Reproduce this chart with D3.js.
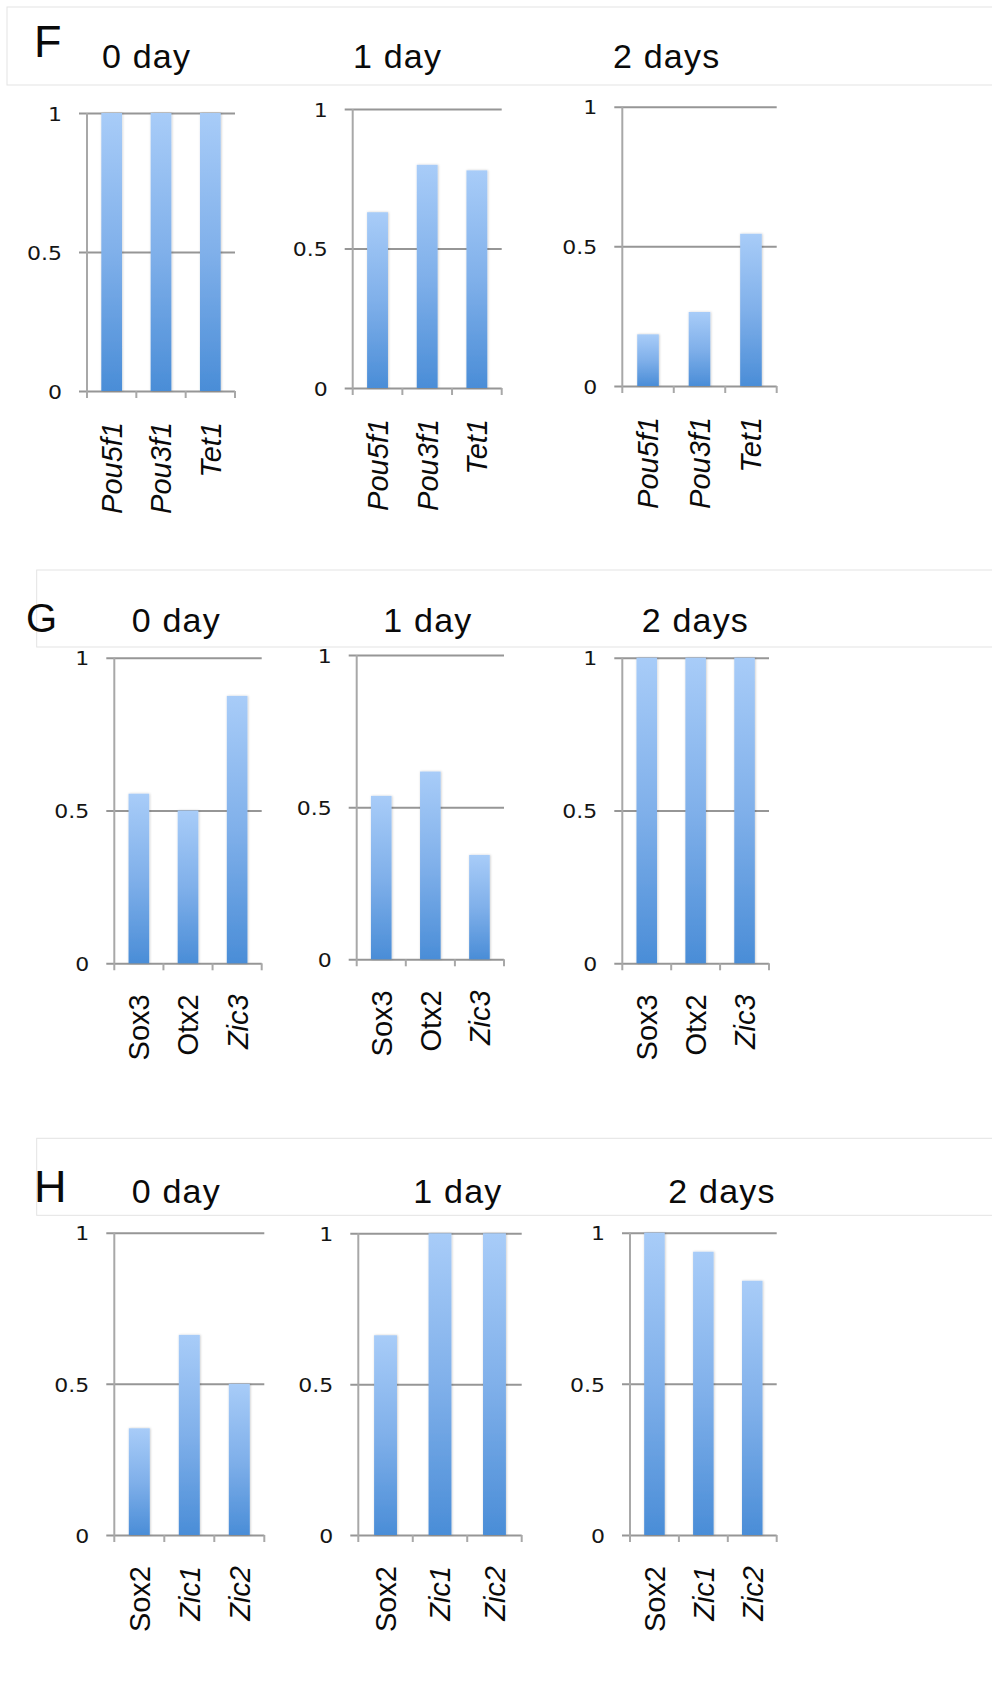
<!DOCTYPE html>
<html>
<head>
<meta charset="utf-8">
<script src="https://cdn.jsdelivr.net/npm/d3@7"></script>
<style>
  body { margin: 0; background: #fff; }
  svg { display: block; }
</style>
</head>
<body>
<svg id="fig" width="992" height="1686"></svg>
<script>
// ---- data ----
const dayTitles = ["0 day", "1 day", "2 days"];
const yTickValues = [0, 0.5, 1];
const yTickLabels = ["0", "0.5", "1"];

const genesF = ["Pou5f1", "Pou3f1", "Tet1"];
const italicF = [true, true, true];
const fDay0 = [1, 1, 1];
const fDay1 = [0.63, 0.80, 0.78];
const fDay2 = [0.185, 0.265, 0.545];

const genesG = ["Sox3", "Otx2", "Zic3"];
const italicG = [false, false, true];
const gDay0 = [0.555, 0.5, 0.875];
const gDay1 = [0.537, 0.617, 0.343];
const gDay2 = [1, 1, 1];

const genesH = ["Sox2", "Zic1", "Zic2"];
const italicH = [false, true, true];
const hDay0 = [0.353, 0.662, 0.5];
const hDay1 = [0.662, 1, 1];
const hDay2 = [1, 0.937, 0.841];

// ---- layout ----
const rows = [
  { letter: "F", genes: genesF, italic: italicF, series: [fDay0, fDay1, fDay2],
    box: { x: 7, y: 7, h: 78 }, letterPos: { x: 34, y: 57, size: 45 },
    titleY: 68, titleX: [102, 353, 613],
    panels: [
      { ax: 87, top: 113, bot: 391, right: 235 },
      { ax: 352.7, top: 109, bot: 388, right: 501.7 },
      { ax: 622.3, top: 106.7, bot: 386, right: 776.7 } ] },
  { letter: "G", genes: genesG, italic: italicG, series: [gDay0, gDay1, gDay2],
    box: { x: 36.7, y: 570, h: 77 }, letterPos: { x: 26, y: 632, size: 40 },
    titleY: 632, titleX: [131.7, 383.3, 641.7],
    panels: [
      { ax: 114.3, top: 657.7, bot: 963.3, right: 261.7 },
      { ax: 356.7, top: 655, bot: 959.3, right: 504 },
      { ax: 622.3, top: 657.7, bot: 963.3, right: 769 } ] },
  { letter: "H", genes: genesH, italic: italicH, series: [hDay0, hDay1, hDay2],
    box: { x: 36.7, y: 1138.3, h: 77 }, letterPos: { x: 34, y: 1202, size: 45 },
    titleY: 1203, titleX: [131.7, 413.3, 668.3],
    panels: [
      { ax: 114.3, top: 1232.7, bot: 1535, right: 264.3 },
      { ax: 358.3, top: 1233.3, bot: 1535, right: 521.7 },
      { ax: 630, top: 1232.7, bot: 1535, right: 776.7 } ] }
];

const gridColor = "#969696";
const axisColor = "#a8a8a8";
const barFrac = 0.42;
const tickExt = 8;     // gridline overhang left of the axis
const catTick = 7;     // category tick length below the axis
const labelGap = 25;   // value label right edge to axis
const catLabelGap = 31;

const svg = d3.select("#fig");
const defs = svg.append("defs");

const grad = defs.append("linearGradient")
  .attr("id", "barGrad").attr("x1", 0).attr("y1", 0).attr("x2", 0).attr("y2", 1);
grad.append("stop").attr("offset", "0%").attr("stop-color", "#a8ccf8");
grad.append("stop").attr("offset", "50%").attr("stop-color", "#80b0ea");
grad.append("stop").attr("offset", "100%").attr("stop-color", "#4a8dd7");

const shadow = defs.append("filter").attr("id", "barShadow")
  .attr("x", "-30%").attr("y", "-5%").attr("width", "160%").attr("height", "110%");
shadow.append("feDropShadow").attr("dx", 0.6).attr("dy", 0).attr("stdDeviation", 1)
  .attr("flood-color", "#000").attr("flood-opacity", 0.22);

rows.forEach(row => {
  // header strip
  svg.append("rect")
    .attr("x", row.box.x).attr("y", row.box.y)
    .attr("width", 1100).attr("height", row.box.h)
    .attr("fill", "none").attr("stroke", "#e3e3e3").attr("stroke-width", 1);

  svg.append("text")
    .attr("x", row.letterPos.x).attr("y", row.letterPos.y)
    .attr("font-family", "'Liberation Sans', Arial, sans-serif")
    .attr("font-size", row.letterPos.size)
    .attr("fill", "#0a0a0a")
    .text(row.letter);

  row.panels.forEach((p, i) => {
    svg.append("text")
      .attr("x", row.titleX[i]).attr("y", row.titleY)
      .attr("font-family", "'Liberation Sans', Arial, sans-serif")
      .attr("font-size", 34)
      .attr("letter-spacing", 1.2)
      .attr("fill", "#0a0a0a")
      .text(dayTitles[i]);

    const values = row.series[i];
    const data = row.genes.map((g, k) => ({ gene: g, value: values[k], italic: row.italic[k] }));

    const y = d3.scaleLinear().domain([0, 1]).range([p.bot, p.top]);
    const x = d3.scaleBand().domain(row.genes).range([p.ax, p.right]).padding(0);
    const g = svg.append("g");

    // horizontal gridlines + value labels
    const yAxis = d3.axisLeft(y)
      .tickValues(yTickValues)
      .tickSize(-(p.right - p.ax + tickExt))
      .tickFormat((d, k) => yTickLabels[k]);
    const ya = g.append("g")
      .attr("transform", `translate(${p.ax - tickExt},0)`)
      .call(yAxis);
    ya.select(".domain").remove();
    ya.selectAll(".tick line")
      .attr("stroke", gridColor).attr("stroke-width", 2);
    ya.selectAll(".tick text")
      .attr("x", 0).attr("dy", "0.36em")
      .attr("transform", `translate(${-(labelGap - tickExt)},0) scale(1.1,1)`)
      .attr("text-anchor", "end")
      .attr("font-family", "'DejaVu Sans', sans-serif")
      .attr("font-size", 20)
      .attr("fill", "#151515");

    // vertical axis line, running down to the category tick length
    g.append("line")
      .attr("x1", p.ax).attr("x2", p.ax)
      .attr("y1", p.top).attr("y2", p.bot + catTick)
      .attr("stroke", axisColor).attr("stroke-width", 2);

    // category boundary ticks
    const bounds = row.genes.map(d => x(d) + x.bandwidth());
    g.selectAll(".bound").data(bounds).join("line")
      .attr("class", "bound")
      .attr("x1", d => d).attr("x2", d => d)
      .attr("y1", p.bot).attr("y2", p.bot + catTick)
      .attr("stroke", axisColor).attr("stroke-width", 2);

    // bars
    const bw = x.bandwidth() * barFrac;
    g.selectAll(".bar").data(data).join("rect")
      .attr("class", "bar")
      .attr("x", d => x(d.gene) + (x.bandwidth() - bw) / 2)
      .attr("width", bw)
      .attr("y", d => y(d.value))
      .attr("height", d => p.bot - y(d.value))
      .attr("fill", "url(#barGrad)")
      .attr("filter", "url(#barShadow)");

    // rotated gene labels
    const xAxis = d3.axisBottom(x).tickSize(0).tickFormat(d => d);
    const xa = g.append("g")
      .attr("transform", `translate(0,${p.bot})`)
      .call(xAxis);
    xa.select(".domain").remove();
    xa.selectAll(".tick text")
      .data(data)
      .attr("transform", "rotate(-90)")
      .attr("x", -catLabelGap).attr("y", 0).attr("dy", "0.36em")
      .attr("text-anchor", "end")
      .attr("font-family", "'Liberation Sans', Arial, sans-serif")
      .attr("font-size", 29)
      .attr("font-style", d => d.italic ? "italic" : "normal")
      .attr("fill", "#0a0a0a");
  });
});
</script>
</body>
</html>
